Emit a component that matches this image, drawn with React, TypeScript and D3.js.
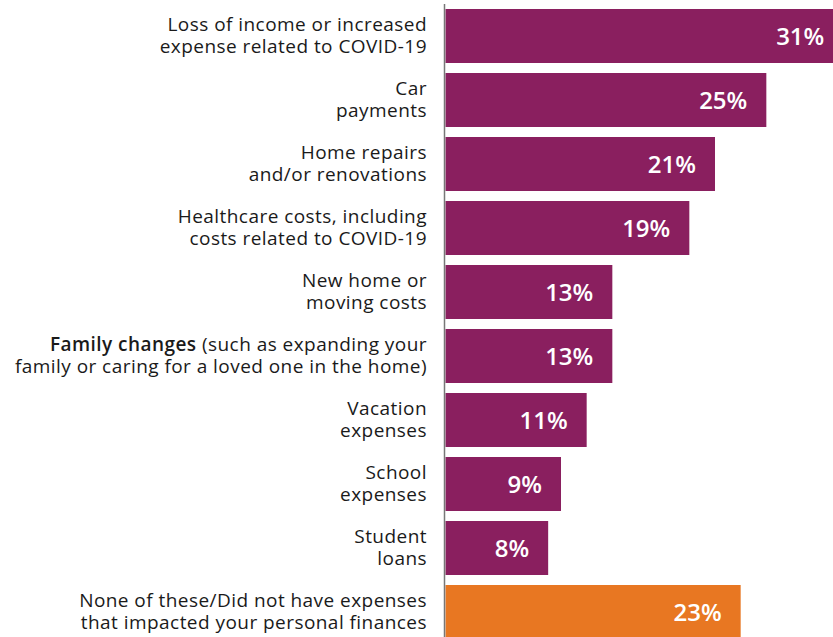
import * as d3 from "d3";
import * as React from "react";

const categories = [
  "Loss of income or increased|expense related to COVID-19",
  "Car|payments",
  "Home repairs|and/or renovations",
  "Healthcare costs, including|costs related to COVID-19",
  "New home or|moving costs",
  "Family changes (such as expanding your|family or caring for a loved one in the home)",
  "Vacation|expenses",
  "School|expenses",
  "Student|loans",
  "None of these/Did not have expenses|that impacted your personal finances",
];
const values = [31, 25, 21, 19, 13, 13, 11, 9, 8, 23];
const highlight = [false, false, false, false, false, false, false, false, false, true];

const purple = "#8a1f5f";
const orange = "#e87722";

export default function App() {
  const width = 833;
  const height = 637;
  const axisX = 444.5;
  const fontFamily = "'Open Sans', Lato, sans-serif";

  const x = d3.scaleLinear([0, 30], [axisX + 1, axisX + 1 + 385]);
  const y = d3
    .scaleBand<string>()
    .domain(categories)
    .range([4, 644])
    .paddingInner(10 / 64)
    .paddingOuter(5 / 64);

  return (
    <svg
      width={width}
      height={height}
      viewBox={`0 0 ${width} ${height}`}
      style={{ position: "absolute", left: 0, top: 0, fontFamily }}
    >
      {categories.map((c, i) => {
        const y0 = y(c) ?? 0;
        const cy = y0 + y.bandwidth() / 2;
        const lines = c.split("|");
        return (
          <g key={c}>
            <rect
              x={x(0)}
              y={y0}
              width={x(values[i]) - x(0)}
              height={y.bandwidth()}
              fill={highlight[i] ? orange : purple}
            />
            <text
              x={x(values[i]) - 19}
              y={cy + 9}
              textAnchor="end"
              fill="#fff"
              fontSize={24}
              fontWeight={600}
            >
              {values[i]}%
            </text>
            <text textAnchor="end" fill="#1a1a1a" fontSize={19} letterSpacing={0.45}>
              {lines.map((l, j) => {
                const ly = cy - 5 + j * 22;
                if (l.startsWith("Family changes")) {
                  return (
                    <tspan key={j} x={427} y={ly}>
                      <tspan fontWeight={600}>Family changes</tspan>
                      {l.slice("Family changes".length)}
                    </tspan>
                  );
                }
                return (
                  <tspan key={j} x={427} y={ly}>
                    {l}
                  </tspan>
                );
              })}
            </text>
          </g>
        );
      })}
      <line x1={axisX} x2={axisX} y1={4} y2={height} stroke="#777" strokeWidth={1.5} />
    </svg>
  );
}
